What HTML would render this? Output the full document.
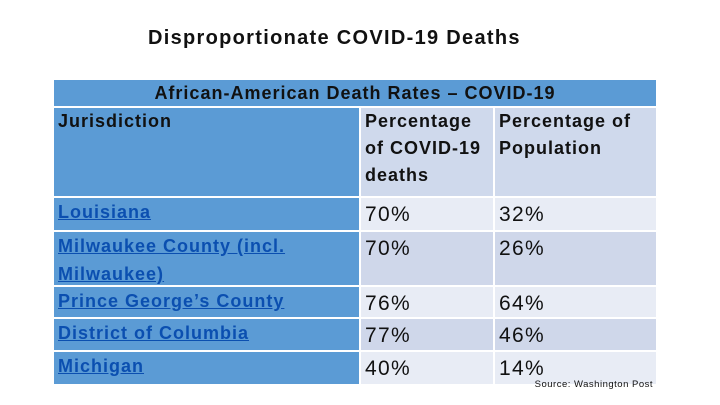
<!DOCTYPE html>
<html><head><meta charset="utf-8"><style>
body{margin:0;width:720px;height:405px;background:#fff;position:relative;overflow:hidden;font-family:"Liberation Sans",Arial,sans-serif}
.t{position:absolute;left:148px;top:27px;font-size:20px;font-weight:bold;color:#111;letter-spacing:1.3px}
.c{position:absolute;box-sizing:border-box;padding:2px 4px;color:#111;letter-spacing:1px}
.b{background:#5b9bd5}
.h{background:#cfd9ec;font-weight:bold;font-size:18px;line-height:27px;padding-top:0}
.l{color:#0b4fb0;font-weight:bold;font-size:18px;text-decoration:underline;line-height:28px;padding-top:0}
.v{font-size:21px;padding-top:5px;letter-spacing:1.3px}
.r1{background:#e8ecf5}.r2{background:#cfd7ea}
.src{position:absolute;right:67px;top:379px;font-size:9.5px;color:#111;letter-spacing:0.5px}
</style></head><body>
<div class="t">Disproportionate COVID-19 Deaths</div>
<div class="c b" style="left:54px;top:80px;width:602px;height:26px;text-align:center;font-weight:bold;font-size:18px;line-height:26px;padding:0">African-American Death Rates – COVID-19</div>
<div class="c b" style="left:54px;top:108px;width:305px;height:88px;font-weight:bold;font-size:18px;line-height:27px;padding-top:0">Jurisdiction</div>
<div class="c h" style="left:361px;top:108px;width:132px;height:88px">Percentage of COVID-19 deaths</div>
<div class="c h" style="left:495px;top:108px;width:161px;height:88px">Percentage of Population</div>

<div class="c b l" style="left:54px;top:198px;width:305px;height:32px">Louisiana</div>
<div class="c v r1" style="left:361px;top:198px;width:132px;height:32px">70%</div>
<div class="c v r1" style="left:495px;top:198px;width:161px;height:32px">32%</div>

<div class="c b l" style="left:54px;top:232px;width:305px;height:53px">Milwaukee County (incl. Milwaukee)</div>
<div class="c v r2" style="left:361px;top:232px;width:132px;height:53px">70%</div>
<div class="c v r2" style="left:495px;top:232px;width:161px;height:53px">26%</div>

<div class="c b l" style="left:54px;top:287px;width:305px;height:30px">Prince George’s County</div>
<div class="c v r1" style="left:361px;top:287px;width:132px;height:30px">76%</div>
<div class="c v r1" style="left:495px;top:287px;width:161px;height:30px">64%</div>

<div class="c b l" style="left:54px;top:319px;width:305px;height:31px">District of Columbia</div>
<div class="c v r2" style="left:361px;top:319px;width:132px;height:31px">77%</div>
<div class="c v r2" style="left:495px;top:319px;width:161px;height:31px">46%</div>

<div class="c b l" style="left:54px;top:352px;width:305px;height:32px">Michigan</div>
<div class="c v r1" style="left:361px;top:352px;width:132px;height:32px">40%</div>
<div class="c v r1" style="left:495px;top:352px;width:161px;height:32px">14%</div>
<div class="src">Source: Washington Post</div>
</body></html>
